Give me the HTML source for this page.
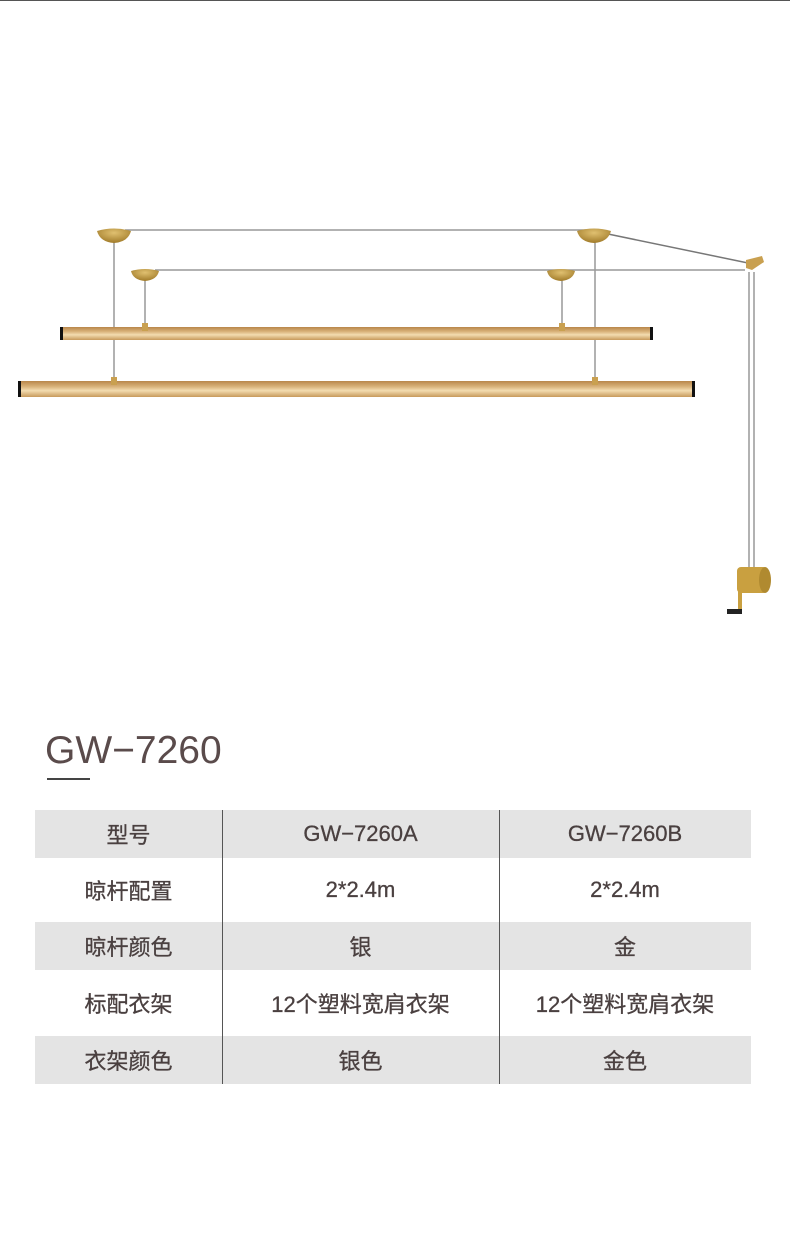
<!DOCTYPE html>
<html><head><meta charset="utf-8"><style>
body{margin:0;width:790px;height:1254px;background:#fff;position:relative;overflow:hidden;font-family:"Liberation Sans","Noto Sans CJK SC",sans-serif}
.t{position:absolute;left:45px;top:729px;font-size:39px;color:#5a4b4b;letter-spacing:0}
.ul{position:absolute;left:47px;top:778px;width:43px;height:2px;background:#444}
.row{position:absolute;left:35px;width:716px;display:flex;align-items:center;font-size:22px;color:#4a4040;-webkit-text-stroke:0.3px #4a4040}
.row div{text-align:center}
.g{background:#e4e4e4}
.c1{width:187px}.c2{width:277px}.c3{width:252px}
.v{position:absolute;top:810px;height:274px;width:1px;background:#555}
</style></head><body>
<div style="position:absolute;left:0;top:0;width:790px;height:1px;background:#555"></div>
<svg width="790" height="640" style="position:absolute;left:0;top:0">
<defs>
<linearGradient id="rod" x1="0" y1="0" x2="0" y2="1"><stop offset="0" stop-color="#b8864a"/><stop offset="0.35" stop-color="#d9b27a"/><stop offset="0.6" stop-color="#f3dcb0"/><stop offset="1" stop-color="#c79a5c"/></linearGradient>
<radialGradient id="cap" cx="0.5" cy="0.3" r="0.7"><stop offset="0" stop-color="#e0c070"/><stop offset="1" stop-color="#a07a28"/></radialGradient>
</defs>
<g stroke="#999" stroke-width="1.5" fill="none">
<line x1="125" y1="230" x2="590" y2="230"/>
<line x1="155" y1="270" x2="745" y2="270"/>
<line x1="608" y1="234" x2="748" y2="263" stroke="#777"/>
<line x1="114" y1="240" x2="114" y2="385"/>
<line x1="145" y1="278" x2="145" y2="330"/>
<line x1="562" y1="278" x2="562" y2="330"/>
<line x1="595" y1="240" x2="595" y2="385"/>
<line x1="749" y1="272" x2="749" y2="570"/>
<line x1="754" y1="272" x2="754" y2="570"/>
</g>
<g fill="url(#cap)">
<path d="M97 231 Q114 226 131 231 Q128 242 114 243 Q100 242 97 231Z"/>
<path d="M577 231 Q594 226 611 231 Q608 242 594 243 Q580 242 577 231Z"/>
<path d="M131 271 Q145 267 159 271 Q157 280 145 281 Q133 280 131 271Z"/>
<path d="M547 271 Q561 267 575 271 Q573 280 561 281 Q549 280 547 271Z"/>
</g>
<rect x="60" y="327" width="593" height="13" fill="url(#rod)"/>
<rect x="60" y="327" width="3" height="13" fill="#111"/><rect x="650" y="327" width="3" height="13" fill="#111"/>
<rect x="18" y="381" width="677" height="16" fill="url(#rod)"/>
<rect x="18" y="381" width="3" height="16" fill="#111"/><rect x="692" y="381" width="3" height="16" fill="#111"/>
<rect x="142" y="323" width="6" height="8" fill="#c9a050"/><rect x="559" y="323" width="6" height="8" fill="#c9a050"/>
<rect x="111" y="377" width="6" height="8" fill="#c9a050"/><rect x="592" y="377" width="6" height="8" fill="#c9a050"/>
<path d="M746 260 L762 256 L764 262 L752 270 L746 268Z" fill="#c9a050"/>
<rect x="737" y="567" width="30" height="26" rx="4" fill="#c9a040"/>
<ellipse cx="765" cy="580" rx="6" ry="13" fill="#b08a30"/>
<rect x="738" y="590" width="4" height="20" fill="#c9a040"/>
<rect x="727" y="609" width="15" height="5" fill="#222"/>
</svg>
<div class="t">GW−7260</div><div class="ul"></div>
<div class="row g" style="top:810px;height:48px"><div class="c1">型号</div><div class="c2">GW−7260A</div><div class="c3">GW−7260B</div></div>
<div class="row" style="top:862px;height:56px"><div class="c1">晾杆配置</div><div class="c2">2*2.4m</div><div class="c3">2*2.4m</div></div>
<div class="row g" style="top:922px;height:48px"><div class="c1">晾杆颜色</div><div class="c2">银</div><div class="c3">金</div></div>
<div class="row" style="top:973px;height:60px"><div class="c1">标配衣架</div><div class="c2">12个塑料宽肩衣架</div><div class="c3">12个塑料宽肩衣架</div></div>
<div class="row g" style="top:1036px;height:48px"><div class="c1">衣架颜色</div><div class="c2">银色</div><div class="c3">金色</div></div>
<div class="v" style="left:222px"></div><div class="v" style="left:499px"></div>
</body></html>
